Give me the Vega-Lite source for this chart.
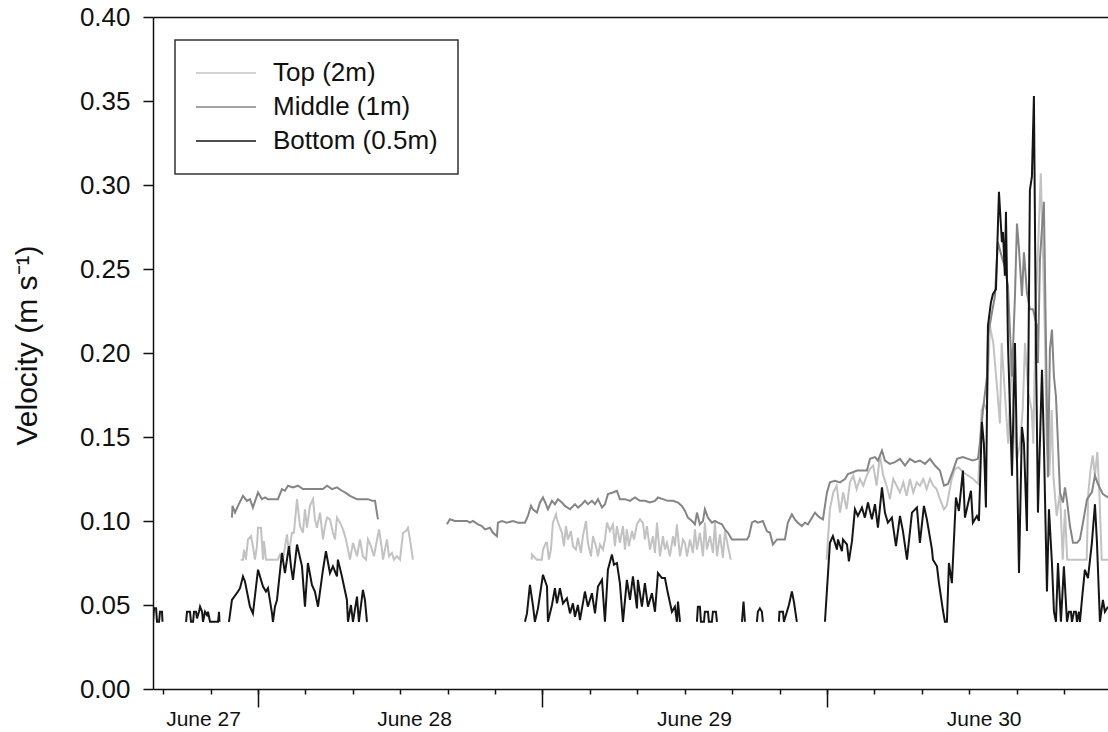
{
"$schema": "https://vega.github.io/schema/vega-lite/v6.json",
"width": 955, "height": 672,
"autosize": {"type": "none"},
"padding": {"left": 153, "top": 17, "right": 0, "bottom": 43},
"background": "white",
"config": {"view": {"stroke": null}, "font": "Liberation Sans", "legend": {"strokeWidth": 1.5}},
"data": {"values": [
{"s":"T","g":1,"h":22.54,"v":0.077},{"s":"T","g":1,"h":22.73,"v":0.077},{"s":"T","g":1,"h":22.82,"v":0.083},{"s":"T","g":1,"h":22.98,"v":0.077},{"s":"T","g":1,"h":23.15,"v":0.089},{"s":"T","g":1,"h":23.41,"v":0.091},{"s":"T","g":1,"h":23.57,"v":0.085},{"s":"T","g":1,"h":23.74,"v":0.077},{"s":"T","g":1,"h":23.91,"v":0.085},{"s":"T","g":1,"h":24.00,"v":0.096},{"s":"T","g":1,"h":24.25,"v":0.096},{"s":"T","g":1,"h":24.42,"v":0.077},{"s":"T","g":1,"h":24.50,"v":0.088},{"s":"T","g":1,"h":24.67,"v":0.077},{"s":"T","g":1,"h":25.01,"v":0.077},{"s":"T","g":1,"h":25.68,"v":0.077},{"s":"T","g":1,"h":25.85,"v":0.080},{"s":"T","g":1,"h":26.11,"v":0.077},{"s":"T","g":1,"h":26.44,"v":0.092},{"s":"T","g":1,"h":26.61,"v":0.081},{"s":"T","g":1,"h":26.86,"v":0.093},{"s":"T","g":1,"h":27.03,"v":0.093},{"s":"T","g":1,"h":27.29,"v":0.113},{"s":"T","g":1,"h":27.54,"v":0.097},{"s":"T","g":1,"h":27.79,"v":0.093},{"s":"T","g":1,"h":27.96,"v":0.107},{"s":"T","g":1,"h":28.13,"v":0.096},{"s":"T","g":1,"h":28.38,"v":0.109},{"s":"T","g":1,"h":28.64,"v":0.113},{"s":"T","g":1,"h":28.80,"v":0.101},{"s":"T","g":1,"h":28.97,"v":0.096},{"s":"T","g":1,"h":29.23,"v":0.105},{"s":"T","g":1,"h":29.48,"v":0.089},{"s":"T","g":1,"h":29.65,"v":0.097},{"s":"T","g":1,"h":29.82,"v":0.102},{"s":"T","g":1,"h":30.07,"v":0.101},{"s":"T","g":1,"h":30.32,"v":0.093},{"s":"T","g":1,"h":30.49,"v":0.089},{"s":"T","g":1,"h":30.66,"v":0.102},{"s":"T","g":1,"h":30.92,"v":0.099},{"s":"T","g":1,"h":31.17,"v":0.095},{"s":"T","g":1,"h":31.42,"v":0.089},{"s":"T","g":1,"h":31.59,"v":0.083},{"s":"T","g":1,"h":31.76,"v":0.077},{"s":"T","g":1,"h":32.01,"v":0.087},{"s":"T","g":1,"h":32.35,"v":0.079},{"s":"T","g":1,"h":32.60,"v":0.089},{"s":"T","g":1,"h":32.85,"v":0.079},{"s":"T","g":1,"h":33.11,"v":0.077},{"s":"T","g":1,"h":33.28,"v":0.089},{"s":"T","g":1,"h":33.53,"v":0.085},{"s":"T","g":1,"h":33.78,"v":0.079},{"s":"T","g":1,"h":34.04,"v":0.089},{"s":"T","g":1,"h":34.21,"v":0.095},{"s":"T","g":1,"h":34.46,"v":0.083},{"s":"T","g":1,"h":34.54,"v":0.077},{"s":"T","g":1,"h":34.88,"v":0.089},{"s":"T","g":1,"h":35.05,"v":0.079},{"s":"T","g":1,"h":35.30,"v":0.081},{"s":"T","g":1,"h":35.47,"v":0.077},{"s":"T","g":1,"h":35.72,"v":0.079},{"s":"T","g":1,"h":35.98,"v":0.077},{"s":"T","g":1,"h":36.23,"v":0.093},{"s":"T","g":1,"h":36.48,"v":0.094},{"s":"T","g":1,"h":36.65,"v":0.096},{"s":"T","g":1,"h":36.82,"v":0.089},{"s":"T","g":1,"h":37.07,"v":0.077},
{"s":"T","g":2,"h":47.09,"v":0.077},{"s":"T","g":2,"h":47.11,"v":0.080},{"s":"T","g":2,"h":47.53,"v":0.077},{"s":"T","g":2,"h":47.95,"v":0.077},{"s":"T","g":2,"h":48.04,"v":0.083},{"s":"T","g":2,"h":48.29,"v":0.087},{"s":"T","g":2,"h":48.38,"v":0.087},{"s":"T","g":2,"h":48.54,"v":0.077},{"s":"T","g":2,"h":48.71,"v":0.083},{"s":"T","g":2,"h":48.88,"v":0.099},{"s":"T","g":2,"h":49.14,"v":0.104},{"s":"T","g":2,"h":49.22,"v":0.101},{"s":"T","g":2,"h":49.47,"v":0.096},{"s":"T","g":2,"h":49.64,"v":0.093},{"s":"T","g":2,"h":49.81,"v":0.085},{"s":"T","g":2,"h":49.98,"v":0.097},{"s":"T","g":2,"h":50.15,"v":0.089},{"s":"T","g":2,"h":50.40,"v":0.094},{"s":"T","g":2,"h":50.57,"v":0.085},{"s":"T","g":2,"h":50.82,"v":0.083},{"s":"T","g":2,"h":50.99,"v":0.090},{"s":"T","g":2,"h":51.24,"v":0.081},{"s":"T","g":2,"h":51.41,"v":0.091},{"s":"T","g":2,"h":51.67,"v":0.100},{"s":"T","g":2,"h":51.83,"v":0.087},{"s":"T","g":2,"h":52.09,"v":0.079},{"s":"T","g":2,"h":52.26,"v":0.091},{"s":"T","g":2,"h":52.51,"v":0.085},{"s":"T","g":2,"h":52.68,"v":0.079},{"s":"T","g":2,"h":52.85,"v":0.086},{"s":"T","g":2,"h":53.10,"v":0.083},{"s":"T","g":2,"h":53.27,"v":0.089},{"s":"T","g":2,"h":53.44,"v":0.099},{"s":"T","g":2,"h":53.69,"v":0.094},{"s":"T","g":2,"h":53.94,"v":0.098},{"s":"T","g":2,"h":54.11,"v":0.085},{"s":"T","g":2,"h":54.28,"v":0.097},{"s":"T","g":2,"h":54.53,"v":0.087},{"s":"T","g":2,"h":54.79,"v":0.097},{"s":"T","g":2,"h":54.96,"v":0.083},{"s":"T","g":2,"h":55.12,"v":0.095},{"s":"T","g":2,"h":55.29,"v":0.085},{"s":"T","g":2,"h":55.55,"v":0.094},{"s":"T","g":2,"h":55.72,"v":0.089},{"s":"T","g":2,"h":55.97,"v":0.098},{"s":"T","g":2,"h":56.22,"v":0.101},{"s":"T","g":2,"h":56.47,"v":0.099},{"s":"T","g":2,"h":56.64,"v":0.089},{"s":"T","g":2,"h":56.81,"v":0.097},{"s":"T","g":2,"h":57.07,"v":0.083},{"s":"T","g":2,"h":57.32,"v":0.091},{"s":"T","g":2,"h":57.49,"v":0.081},{"s":"T","g":2,"h":57.66,"v":0.099},{"s":"T","g":2,"h":57.91,"v":0.079},{"s":"T","g":2,"h":58.16,"v":0.091},{"s":"T","g":2,"h":58.33,"v":0.083},{"s":"T","g":2,"h":58.50,"v":0.087},{"s":"T","g":2,"h":58.75,"v":0.079},{"s":"T","g":2,"h":59.01,"v":0.091},{"s":"T","g":2,"h":59.17,"v":0.085},{"s":"T","g":2,"h":59.34,"v":0.098},{"s":"T","g":2,"h":59.60,"v":0.079},{"s":"T","g":2,"h":59.85,"v":0.089},{"s":"T","g":2,"h":60.02,"v":0.087},{"s":"T","g":2,"h":60.19,"v":0.079},{"s":"T","g":2,"h":60.44,"v":0.089},{"s":"T","g":2,"h":60.69,"v":0.081},{"s":"T","g":2,"h":60.86,"v":0.095},{"s":"T","g":2,"h":61.03,"v":0.083},{"s":"T","g":2,"h":61.28,"v":0.093},{"s":"T","g":2,"h":61.54,"v":0.079},{"s":"T","g":2,"h":61.70,"v":0.099},{"s":"T","g":2,"h":61.87,"v":0.083},{"s":"T","g":2,"h":62.13,"v":0.091},{"s":"T","g":2,"h":62.38,"v":0.081},{"s":"T","g":2,"h":62.55,"v":0.099},{"s":"T","g":2,"h":62.72,"v":0.079},{"s":"T","g":2,"h":62.97,"v":0.092},{"s":"T","g":2,"h":63.22,"v":0.078},{"s":"T","g":2,"h":63.39,"v":0.094},{"s":"T","g":2,"h":63.65,"v":0.085},{"s":"T","g":2,"h":63.88,"v":0.077},
{"s":"T","g":3,"h":71.97,"v":0.077},{"s":"T","g":3,"h":72.25,"v":0.107},{"s":"T","g":3,"h":72.53,"v":0.117},{"s":"T","g":3,"h":72.82,"v":0.121},{"s":"T","g":3,"h":73.10,"v":0.105},{"s":"T","g":3,"h":73.37,"v":0.117},{"s":"T","g":3,"h":73.66,"v":0.107},{"s":"T","g":3,"h":73.94,"v":0.123},{"s":"T","g":3,"h":74.22,"v":0.127},{"s":"T","g":3,"h":74.50,"v":0.119},{"s":"T","g":3,"h":74.78,"v":0.125},{"s":"T","g":3,"h":75.06,"v":0.121},{"s":"T","g":3,"h":75.35,"v":0.127},{"s":"T","g":3,"h":75.63,"v":0.131},{"s":"T","g":3,"h":75.90,"v":0.133},{"s":"T","g":3,"h":76.19,"v":0.121},{"s":"T","g":3,"h":76.47,"v":0.139},{"s":"T","g":3,"h":76.75,"v":0.127},{"s":"T","g":3,"h":77.03,"v":0.121},{"s":"T","g":3,"h":77.31,"v":0.113},{"s":"T","g":3,"h":77.59,"v":0.125},{"s":"T","g":3,"h":77.88,"v":0.121},{"s":"T","g":3,"h":78.16,"v":0.117},{"s":"T","g":3,"h":78.44,"v":0.123},{"s":"T","g":3,"h":78.72,"v":0.115},{"s":"T","g":3,"h":79.00,"v":0.125},{"s":"T","g":3,"h":79.28,"v":0.117},{"s":"T","g":3,"h":79.57,"v":0.123},{"s":"T","g":3,"h":79.84,"v":0.121},{"s":"T","g":3,"h":80.12,"v":0.125},{"s":"T","g":3,"h":80.41,"v":0.119},{"s":"T","g":3,"h":80.69,"v":0.125},{"s":"T","g":3,"h":80.97,"v":0.121},{"s":"T","g":3,"h":81.25,"v":0.119},{"s":"T","g":3,"h":81.53,"v":0.113},{"s":"T","g":3,"h":81.87,"v":0.107},{"s":"T","g":3,"h":82.10,"v":0.109},{"s":"T","g":3,"h":82.52,"v":0.125},{"s":"T","g":3,"h":82.80,"v":0.131},{"s":"T","g":3,"h":83.08,"v":0.132},{"s":"T","g":3,"h":83.50,"v":0.129},{"s":"T","g":3,"h":83.92,"v":0.127},{"s":"T","g":3,"h":84.34,"v":0.125},{"s":"T","g":3,"h":84.76,"v":0.122},{"s":"T","g":3,"h":85.05,"v":0.166},{"s":"T","g":3,"h":85.24,"v":0.170},{"s":"T","g":3,"h":85.47,"v":0.166},{"s":"T","g":3,"h":85.75,"v":0.216},{"s":"T","g":3,"h":86.03,"v":0.206},{"s":"T","g":3,"h":86.32,"v":0.182},{"s":"T","g":3,"h":86.59,"v":0.158},{"s":"T","g":3,"h":86.74,"v":0.206},{"s":"T","g":3,"h":87.01,"v":0.176},{"s":"T","g":3,"h":87.29,"v":0.146},{"s":"T","g":3,"h":87.58,"v":0.202},{"s":"T","g":3,"h":87.72,"v":0.166},{"s":"T","g":3,"h":88.00,"v":0.136},{"s":"T","g":3,"h":88.29,"v":0.146},{"s":"T","g":3,"h":88.51,"v":0.166},{"s":"T","g":3,"h":88.71,"v":0.206},{"s":"T","g":3,"h":88.99,"v":0.176},{"s":"T","g":3,"h":89.27,"v":0.166},{"s":"T","g":3,"h":89.41,"v":0.146},{"s":"T","g":3,"h":89.64,"v":0.234},{"s":"T","g":3,"h":89.83,"v":0.266},{"s":"T","g":3,"h":90.04,"v":0.307},{"s":"T","g":3,"h":90.20,"v":0.266},{"s":"T","g":3,"h":90.40,"v":0.206},{"s":"T","g":3,"h":90.54,"v":0.146},{"s":"T","g":3,"h":90.76,"v":0.127},{"s":"T","g":3,"h":90.96,"v":0.166},{"s":"T","g":3,"h":91.10,"v":0.127},{"s":"T","g":3,"h":91.38,"v":0.103},{"s":"T","g":3,"h":91.66,"v":0.117},{"s":"T","g":3,"h":91.89,"v":0.077},{"s":"T","g":3,"h":92.08,"v":0.107},{"s":"T","g":3,"h":92.27,"v":0.077},{"s":"T","g":3,"h":92.50,"v":0.077},{"s":"T","g":3,"h":93.91,"v":0.077},{"s":"T","g":3,"h":94.05,"v":0.117},{"s":"T","g":3,"h":94.25,"v":0.131},{"s":"T","g":3,"h":94.42,"v":0.139},{"s":"T","g":3,"h":94.61,"v":0.127},{"s":"T","g":3,"h":94.81,"v":0.141},{"s":"T","g":3,"h":94.98,"v":0.117},{"s":"T","g":3,"h":95.18,"v":0.077},{"s":"T","g":3,"h":95.71,"v":0.077},
{"s":"M","g":4,"h":21.80,"v":0.102},{"s":"M","g":4,"h":21.85,"v":0.109},{"s":"M","g":4,"h":22.06,"v":0.105},{"s":"M","g":4,"h":22.31,"v":0.109},{"s":"M","g":4,"h":22.73,"v":0.115},{"s":"M","g":4,"h":23.07,"v":0.112},{"s":"M","g":4,"h":23.32,"v":0.113},{"s":"M","g":4,"h":23.57,"v":0.108},{"s":"M","g":4,"h":24.00,"v":0.117},{"s":"M","g":4,"h":24.33,"v":0.113},{"s":"M","g":4,"h":24.59,"v":0.114},{"s":"M","g":4,"h":24.84,"v":0.113},{"s":"M","g":4,"h":25.68,"v":0.113},{"s":"M","g":4,"h":26.02,"v":0.119},{"s":"M","g":4,"h":26.27,"v":0.118},{"s":"M","g":4,"h":26.53,"v":0.121},{"s":"M","g":4,"h":26.95,"v":0.120},{"s":"M","g":4,"h":27.37,"v":0.121},{"s":"M","g":4,"h":27.79,"v":0.119},{"s":"M","g":4,"h":28.38,"v":0.119},{"s":"M","g":4,"h":28.97,"v":0.119},{"s":"M","g":4,"h":29.48,"v":0.119},{"s":"M","g":4,"h":29.82,"v":0.121},{"s":"M","g":4,"h":30.24,"v":0.119},{"s":"M","g":4,"h":30.66,"v":0.120},{"s":"M","g":4,"h":31.08,"v":0.118},{"s":"M","g":4,"h":31.34,"v":0.117},{"s":"M","g":4,"h":31.76,"v":0.115},{"s":"M","g":4,"h":32.35,"v":0.113},{"s":"M","g":4,"h":32.85,"v":0.113},{"s":"M","g":4,"h":33.28,"v":0.113},{"s":"M","g":4,"h":33.61,"v":0.112},{"s":"M","g":4,"h":33.87,"v":0.112},{"s":"M","g":4,"h":34.12,"v":0.101},
{"s":"M","g":5,"h":39.94,"v":0.098},{"s":"M","g":5,"h":40.19,"v":0.101},{"s":"M","g":5,"h":40.61,"v":0.100},{"s":"M","g":5,"h":41.04,"v":0.100},{"s":"M","g":5,"h":41.63,"v":0.100},{"s":"M","g":5,"h":41.88,"v":0.099},{"s":"M","g":5,"h":42.13,"v":0.100},{"s":"M","g":5,"h":42.56,"v":0.098},{"s":"M","g":5,"h":42.89,"v":0.097},{"s":"M","g":5,"h":43.15,"v":0.095},{"s":"M","g":5,"h":43.57,"v":0.096},{"s":"M","g":5,"h":43.82,"v":0.093},{"s":"M","g":5,"h":44.16,"v":0.091},{"s":"M","g":5,"h":44.24,"v":0.099},{"s":"M","g":5,"h":44.58,"v":0.100},{"s":"M","g":5,"h":45.00,"v":0.099},{"s":"M","g":5,"h":45.51,"v":0.100},{"s":"M","g":5,"h":45.93,"v":0.099},{"s":"M","g":5,"h":46.52,"v":0.099},{"s":"M","g":5,"h":46.77,"v":0.103},{"s":"M","g":5,"h":47.03,"v":0.109},{"s":"M","g":5,"h":47.19,"v":0.107},{"s":"M","g":5,"h":47.53,"v":0.105},{"s":"M","g":5,"h":47.79,"v":0.111},{"s":"M","g":5,"h":48.04,"v":0.114},{"s":"M","g":5,"h":48.29,"v":0.110},{"s":"M","g":5,"h":48.46,"v":0.107},{"s":"M","g":5,"h":48.80,"v":0.112},{"s":"M","g":5,"h":49.05,"v":0.110},{"s":"M","g":5,"h":49.30,"v":0.113},{"s":"M","g":5,"h":49.64,"v":0.111},{"s":"M","g":5,"h":49.89,"v":0.109},{"s":"M","g":5,"h":50.32,"v":0.107},{"s":"M","g":5,"h":50.74,"v":0.110},{"s":"M","g":5,"h":50.99,"v":0.108},{"s":"M","g":5,"h":51.33,"v":0.110},{"s":"M","g":5,"h":51.58,"v":0.112},{"s":"M","g":5,"h":51.83,"v":0.110},{"s":"M","g":5,"h":52.17,"v":0.112},{"s":"M","g":5,"h":52.43,"v":0.110},{"s":"M","g":5,"h":52.68,"v":0.113},{"s":"M","g":5,"h":53.02,"v":0.108},{"s":"M","g":5,"h":53.27,"v":0.110},{"s":"M","g":5,"h":53.52,"v":0.116},{"s":"M","g":5,"h":53.94,"v":0.117},{"s":"M","g":5,"h":54.28,"v":0.118},{"s":"M","g":5,"h":54.53,"v":0.113},{"s":"M","g":5,"h":54.96,"v":0.113},{"s":"M","g":5,"h":55.38,"v":0.112},{"s":"M","g":5,"h":55.80,"v":0.114},{"s":"M","g":5,"h":56.22,"v":0.112},{"s":"M","g":5,"h":56.64,"v":0.112},{"s":"M","g":5,"h":57.07,"v":0.111},{"s":"M","g":5,"h":57.49,"v":0.112},{"s":"M","g":5,"h":57.74,"v":0.114},{"s":"M","g":5,"h":58.16,"v":0.113},{"s":"M","g":5,"h":58.58,"v":0.112},{"s":"M","g":5,"h":59.01,"v":0.112},{"s":"M","g":5,"h":59.43,"v":0.111},{"s":"M","g":5,"h":59.76,"v":0.109},{"s":"M","g":5,"h":60.02,"v":0.106},{"s":"M","g":5,"h":60.27,"v":0.102},{"s":"M","g":5,"h":60.61,"v":0.100},{"s":"M","g":5,"h":60.86,"v":0.098},{"s":"M","g":5,"h":61.03,"v":0.105},{"s":"M","g":5,"h":61.28,"v":0.098},{"s":"M","g":5,"h":61.54,"v":0.100},{"s":"M","g":5,"h":61.70,"v":0.107},{"s":"M","g":5,"h":61.96,"v":0.102},{"s":"M","g":5,"h":62.29,"v":0.099},{"s":"M","g":5,"h":62.55,"v":0.100},{"s":"M","g":5,"h":62.80,"v":0.099},{"s":"M","g":5,"h":63.14,"v":0.098},{"s":"M","g":5,"h":63.39,"v":0.095},{"s":"M","g":5,"h":63.65,"v":0.093},{"s":"M","g":5,"h":63.98,"v":0.089},{"s":"M","g":5,"h":64.41,"v":0.089},{"s":"M","g":5,"h":64.83,"v":0.089},{"s":"M","g":5,"h":65.25,"v":0.089},{"s":"M","g":5,"h":65.42,"v":0.091},{"s":"M","g":5,"h":65.67,"v":0.099},{"s":"M","g":5,"h":65.92,"v":0.100},{"s":"M","g":5,"h":66.17,"v":0.099},{"s":"M","g":5,"h":66.59,"v":0.100},{"s":"M","g":5,"h":66.93,"v":0.094},{"s":"M","g":5,"h":67.19,"v":0.093},{"s":"M","g":5,"h":67.44,"v":0.086},{"s":"M","g":5,"h":67.78,"v":0.089},{"s":"M","g":5,"h":68.20,"v":0.089},{"s":"M","g":5,"h":68.45,"v":0.089},{"s":"M","g":5,"h":68.70,"v":0.099},{"s":"M","g":5,"h":69.04,"v":0.104},{"s":"M","g":5,"h":69.29,"v":0.101},{"s":"M","g":5,"h":69.55,"v":0.099},{"s":"M","g":5,"h":69.88,"v":0.097},{"s":"M","g":5,"h":70.14,"v":0.099},{"s":"M","g":5,"h":70.39,"v":0.098},{"s":"M","g":5,"h":70.73,"v":0.102},{"s":"M","g":5,"h":70.99,"v":0.105},{"s":"M","g":5,"h":71.24,"v":0.103},{"s":"M","g":5,"h":71.41,"v":0.102},{"s":"M","g":5,"h":71.66,"v":0.101},{"s":"M","g":5,"h":72.00,"v":0.117},{"s":"M","g":5,"h":72.25,"v":0.123},{"s":"M","g":5,"h":72.67,"v":0.124},{"s":"M","g":5,"h":73.10,"v":0.123},{"s":"M","g":5,"h":73.52,"v":0.125},{"s":"M","g":5,"h":73.77,"v":0.128},{"s":"M","g":5,"h":74.19,"v":0.129},{"s":"M","g":5,"h":74.53,"v":0.130},{"s":"M","g":5,"h":75.37,"v":0.130},{"s":"M","g":5,"h":75.63,"v":0.137},{"s":"M","g":5,"h":76.05,"v":0.138},{"s":"M","g":5,"h":76.30,"v":0.136},{"s":"M","g":5,"h":76.64,"v":0.142},{"s":"M","g":5,"h":76.89,"v":0.136},{"s":"M","g":5,"h":77.31,"v":0.134},{"s":"M","g":5,"h":77.74,"v":0.135},{"s":"M","g":5,"h":78.16,"v":0.137},{"s":"M","g":5,"h":78.58,"v":0.133},{"s":"M","g":5,"h":79.00,"v":0.137},{"s":"M","g":5,"h":79.42,"v":0.135},{"s":"M","g":5,"h":79.84,"v":0.136},{"s":"M","g":5,"h":80.27,"v":0.134},{"s":"M","g":5,"h":80.69,"v":0.137},{"s":"M","g":5,"h":81.11,"v":0.133},{"s":"M","g":5,"h":81.53,"v":0.130},{"s":"M","g":5,"h":81.87,"v":0.121},{"s":"M","g":5,"h":82.21,"v":0.122},{"s":"M","g":5,"h":82.63,"v":0.130},{"s":"M","g":5,"h":82.97,"v":0.137},{"s":"M","g":5,"h":83.47,"v":0.138},{"s":"M","g":5,"h":83.89,"v":0.137},{"s":"M","g":5,"h":84.31,"v":0.136},{"s":"M","g":5,"h":84.74,"v":0.137},{"s":"M","g":5,"h":84.91,"v":0.147},{"s":"M","g":5,"h":85.16,"v":0.166},{"s":"M","g":5,"h":85.50,"v":0.186},{"s":"M","g":5,"h":85.58,"v":0.210},{"s":"M","g":5,"h":85.92,"v":0.224},{"s":"M","g":5,"h":86.17,"v":0.234},{"s":"M","g":5,"h":86.42,"v":0.266},{"s":"M","g":5,"h":86.76,"v":0.257},{"s":"M","g":5,"h":87.01,"v":0.251},{"s":"M","g":5,"h":87.27,"v":0.240},{"s":"M","g":5,"h":87.61,"v":0.186},{"s":"M","g":5,"h":87.86,"v":0.234},{"s":"M","g":5,"h":88.03,"v":0.277},{"s":"M","g":5,"h":88.20,"v":0.262},{"s":"M","g":5,"h":88.45,"v":0.234},{"s":"M","g":5,"h":88.62,"v":0.260},{"s":"M","g":5,"h":88.87,"v":0.236},{"s":"M","g":5,"h":89.12,"v":0.226},{"s":"M","g":5,"h":89.38,"v":0.226},{"s":"M","g":5,"h":89.71,"v":0.216},{"s":"M","g":5,"h":89.80,"v":0.194},{"s":"M","g":5,"h":89.97,"v":0.256},{"s":"M","g":5,"h":90.14,"v":0.274},{"s":"M","g":5,"h":90.30,"v":0.290},{"s":"M","g":5,"h":90.56,"v":0.167},{"s":"M","g":5,"h":90.64,"v":0.126},{"s":"M","g":5,"h":90.81,"v":0.202},{"s":"M","g":5,"h":90.98,"v":0.214},{"s":"M","g":5,"h":91.15,"v":0.186},{"s":"M","g":5,"h":91.32,"v":0.174},{"s":"M","g":5,"h":91.49,"v":0.146},{"s":"M","g":5,"h":91.66,"v":0.117},{"s":"M","g":5,"h":91.91,"v":0.111},{"s":"M","g":5,"h":92.08,"v":0.120},{"s":"M","g":5,"h":92.25,"v":0.112},{"s":"M","g":5,"h":92.50,"v":0.097},{"s":"M","g":5,"h":92.76,"v":0.087},{"s":"M","g":5,"h":93.09,"v":0.087},{"s":"M","g":5,"h":93.34,"v":0.089},{"s":"M","g":5,"h":93.60,"v":0.099},{"s":"M","g":5,"h":93.94,"v":0.113},{"s":"M","g":5,"h":94.35,"v":0.117},{"s":"M","g":5,"h":94.61,"v":0.127},{"s":"M","g":5,"h":94.86,"v":0.122},{"s":"M","g":5,"h":95.28,"v":0.116},{"s":"M","g":5,"h":95.71,"v":0.114},
{"s":"B","g":6,"h":15.14,"v":0.040},{"s":"B","g":6,"h":15.23,"v":0.048},{"s":"B","g":6,"h":15.40,"v":0.048},{"s":"B","g":6,"h":15.48,"v":0.040},{"s":"B","g":6,"h":15.65,"v":0.040},{"s":"B","g":6,"h":15.73,"v":0.046},{"s":"B","g":6,"h":15.90,"v":0.046},{"s":"B","g":6,"h":15.94,"v":0.040},
{"s":"B","g":7,"h":17.93,"v":0.040},{"s":"B","g":7,"h":18.01,"v":0.046},{"s":"B","g":7,"h":18.26,"v":0.046},{"s":"B","g":7,"h":18.35,"v":0.040},{"s":"B","g":7,"h":18.52,"v":0.040},{"s":"B","g":7,"h":18.60,"v":0.046},{"s":"B","g":7,"h":18.77,"v":0.046},{"s":"B","g":7,"h":18.85,"v":0.042},{"s":"B","g":7,"h":19.02,"v":0.046},{"s":"B","g":7,"h":19.11,"v":0.049},{"s":"B","g":7,"h":19.28,"v":0.046},{"s":"B","g":7,"h":19.36,"v":0.040},{"s":"B","g":7,"h":19.53,"v":0.046},{"s":"B","g":7,"h":19.70,"v":0.044},{"s":"B","g":7,"h":19.78,"v":0.046},{"s":"B","g":7,"h":19.95,"v":0.040},{"s":"B","g":7,"h":20.29,"v":0.040},{"s":"B","g":7,"h":20.63,"v":0.040},{"s":"B","g":7,"h":20.71,"v":0.046},{"s":"B","g":7,"h":20.75,"v":0.040},
{"s":"B","g":8,"h":21.55,"v":0.040},{"s":"B","g":8,"h":21.80,"v":0.053},{"s":"B","g":8,"h":22.31,"v":0.058},{"s":"B","g":8,"h":22.48,"v":0.060},{"s":"B","g":8,"h":22.73,"v":0.067},{"s":"B","g":8,"h":22.90,"v":0.064},{"s":"B","g":8,"h":23.32,"v":0.049},{"s":"B","g":8,"h":23.57,"v":0.045},{"s":"B","g":8,"h":24.00,"v":0.071},{"s":"B","g":8,"h":24.42,"v":0.061},{"s":"B","g":8,"h":24.67,"v":0.058},{"s":"B","g":8,"h":24.84,"v":0.060},{"s":"B","g":8,"h":25.18,"v":0.045},{"s":"B","g":8,"h":25.26,"v":0.040},{"s":"B","g":8,"h":25.43,"v":0.049},{"s":"B","g":8,"h":25.60,"v":0.053},{"s":"B","g":8,"h":26.02,"v":0.081},{"s":"B","g":8,"h":26.27,"v":0.069},{"s":"B","g":8,"h":26.61,"v":0.085},{"s":"B","g":8,"h":26.78,"v":0.073},{"s":"B","g":8,"h":26.95,"v":0.065},{"s":"B","g":8,"h":27.29,"v":0.086},{"s":"B","g":8,"h":27.71,"v":0.073},{"s":"B","g":8,"h":27.96,"v":0.049},{"s":"B","g":8,"h":28.21,"v":0.075},{"s":"B","g":8,"h":28.55,"v":0.062},{"s":"B","g":8,"h":28.80,"v":0.058},{"s":"B","g":8,"h":29.06,"v":0.049},{"s":"B","g":8,"h":29.48,"v":0.071},{"s":"B","g":8,"h":29.73,"v":0.082},{"s":"B","g":8,"h":30.07,"v":0.069},{"s":"B","g":8,"h":30.32,"v":0.073},{"s":"B","g":8,"h":30.66,"v":0.067},{"s":"B","g":8,"h":30.74,"v":0.077},{"s":"B","g":8,"h":31.08,"v":0.067},{"s":"B","g":8,"h":31.50,"v":0.053},{"s":"B","g":8,"h":31.59,"v":0.040},{"s":"B","g":8,"h":31.84,"v":0.050},{"s":"B","g":8,"h":32.01,"v":0.040},{"s":"B","g":8,"h":32.35,"v":0.055},{"s":"B","g":8,"h":32.51,"v":0.040},{"s":"B","g":8,"h":32.85,"v":0.059},{"s":"B","g":8,"h":33.02,"v":0.053},{"s":"B","g":8,"h":33.19,"v":0.040},
{"s":"B","g":9,"h":46.52,"v":0.040},{"s":"B","g":9,"h":46.69,"v":0.045},{"s":"B","g":9,"h":46.94,"v":0.062},{"s":"B","g":9,"h":47.19,"v":0.050},{"s":"B","g":9,"h":47.36,"v":0.040},{"s":"B","g":9,"h":47.62,"v":0.048},{"s":"B","g":9,"h":48.04,"v":0.068},{"s":"B","g":9,"h":48.38,"v":0.061},{"s":"B","g":9,"h":48.46,"v":0.040},{"s":"B","g":9,"h":48.80,"v":0.050},{"s":"B","g":9,"h":49.05,"v":0.060},{"s":"B","g":9,"h":49.22,"v":0.051},{"s":"B","g":9,"h":49.47,"v":0.060},{"s":"B","g":9,"h":49.73,"v":0.051},{"s":"B","g":9,"h":50.06,"v":0.054},{"s":"B","g":9,"h":50.32,"v":0.045},{"s":"B","g":9,"h":50.57,"v":0.051},{"s":"B","g":9,"h":50.74,"v":0.043},{"s":"B","g":9,"h":50.99,"v":0.050},{"s":"B","g":9,"h":51.16,"v":0.041},{"s":"B","g":9,"h":51.58,"v":0.058},{"s":"B","g":9,"h":51.83,"v":0.049},{"s":"B","g":9,"h":52.17,"v":0.057},{"s":"B","g":9,"h":52.43,"v":0.045},{"s":"B","g":9,"h":52.68,"v":0.061},{"s":"B","g":9,"h":53.02,"v":0.065},{"s":"B","g":9,"h":53.27,"v":0.040},{"s":"B","g":9,"h":53.52,"v":0.071},{"s":"B","g":9,"h":53.86,"v":0.080},{"s":"B","g":9,"h":54.03,"v":0.074},{"s":"B","g":9,"h":54.28,"v":0.075},{"s":"B","g":9,"h":54.53,"v":0.063},{"s":"B","g":9,"h":54.79,"v":0.040},{"s":"B","g":9,"h":55.12,"v":0.065},{"s":"B","g":9,"h":55.38,"v":0.053},{"s":"B","g":9,"h":55.63,"v":0.067},{"s":"B","g":9,"h":55.97,"v":0.048},{"s":"B","g":9,"h":56.05,"v":0.065},{"s":"B","g":9,"h":56.39,"v":0.049},{"s":"B","g":9,"h":56.64,"v":0.063},{"s":"B","g":9,"h":56.90,"v":0.049},{"s":"B","g":9,"h":57.23,"v":0.057},{"s":"B","g":9,"h":57.49,"v":0.046},{"s":"B","g":9,"h":57.74,"v":0.069},{"s":"B","g":9,"h":58.08,"v":0.066},{"s":"B","g":9,"h":58.33,"v":0.066},{"s":"B","g":9,"h":58.58,"v":0.057},{"s":"B","g":9,"h":58.92,"v":0.046},{"s":"B","g":9,"h":59.17,"v":0.049},{"s":"B","g":9,"h":59.34,"v":0.040},{"s":"B","g":9,"h":59.43,"v":0.052},{"s":"B","g":9,"h":59.60,"v":0.040},
{"s":"B","g":10,"h":61.03,"v":0.040},{"s":"B","g":10,"h":61.11,"v":0.049},{"s":"B","g":10,"h":61.28,"v":0.049},{"s":"B","g":10,"h":61.37,"v":0.040},{"s":"B","g":10,"h":61.62,"v":0.040},{"s":"B","g":10,"h":61.70,"v":0.046},{"s":"B","g":10,"h":61.96,"v":0.046},{"s":"B","g":10,"h":62.04,"v":0.040},{"s":"B","g":10,"h":62.29,"v":0.040},{"s":"B","g":10,"h":62.38,"v":0.046},{"s":"B","g":10,"h":62.63,"v":0.046},{"s":"B","g":10,"h":62.72,"v":0.040},
{"s":"B","g":11,"h":64.83,"v":0.040},{"s":"B","g":11,"h":64.96,"v":0.052},{"s":"B","g":11,"h":65.08,"v":0.040},
{"s":"B","g":12,"h":66.09,"v":0.040},{"s":"B","g":12,"h":66.17,"v":0.046},{"s":"B","g":12,"h":66.34,"v":0.048},{"s":"B","g":12,"h":66.51,"v":0.046},{"s":"B","g":12,"h":66.59,"v":0.040},
{"s":"B","g":13,"h":67.95,"v":0.040},{"s":"B","g":13,"h":67.99,"v":0.046},{"s":"B","g":13,"h":68.29,"v":0.046},{"s":"B","g":13,"h":68.37,"v":0.040},{"s":"B","g":13,"h":68.62,"v":0.046},{"s":"B","g":13,"h":68.79,"v":0.050},{"s":"B","g":13,"h":69.04,"v":0.058},{"s":"B","g":13,"h":69.21,"v":0.052},{"s":"B","g":13,"h":69.46,"v":0.040},
{"s":"B","g":14,"h":71.83,"v":0.040},{"s":"B","g":14,"h":72.25,"v":0.087},{"s":"B","g":14,"h":72.50,"v":0.091},{"s":"B","g":14,"h":72.84,"v":0.083},{"s":"B","g":14,"h":72.93,"v":0.089},{"s":"B","g":14,"h":73.26,"v":0.082},{"s":"B","g":14,"h":73.35,"v":0.089},{"s":"B","g":14,"h":73.69,"v":0.086},{"s":"B","g":14,"h":73.85,"v":0.076},{"s":"B","g":14,"h":74.11,"v":0.088},{"s":"B","g":14,"h":74.36,"v":0.107},{"s":"B","g":14,"h":74.61,"v":0.103},{"s":"B","g":14,"h":74.95,"v":0.108},{"s":"B","g":14,"h":75.20,"v":0.102},{"s":"B","g":14,"h":75.46,"v":0.111},{"s":"B","g":14,"h":75.79,"v":0.101},{"s":"B","g":14,"h":76.05,"v":0.110},{"s":"B","g":14,"h":76.30,"v":0.096},{"s":"B","g":14,"h":76.64,"v":0.120},{"s":"B","g":14,"h":76.89,"v":0.105},{"s":"B","g":14,"h":77.14,"v":0.099},{"s":"B","g":14,"h":77.48,"v":0.102},{"s":"B","g":14,"h":77.82,"v":0.085},{"s":"B","g":14,"h":78.16,"v":0.103},{"s":"B","g":14,"h":78.41,"v":0.094},{"s":"B","g":14,"h":78.75,"v":0.077},{"s":"B","g":14,"h":79.17,"v":0.105},{"s":"B","g":14,"h":79.59,"v":0.108},{"s":"B","g":14,"h":79.84,"v":0.087},{"s":"B","g":14,"h":80.18,"v":0.109},{"s":"B","g":14,"h":80.43,"v":0.101},{"s":"B","g":14,"h":80.86,"v":0.083},{"s":"B","g":14,"h":80.94,"v":0.077},{"s":"B","g":14,"h":81.28,"v":0.073},{"s":"B","g":14,"h":81.45,"v":0.063},{"s":"B","g":14,"h":81.78,"v":0.047},{"s":"B","g":14,"h":81.95,"v":0.040},{"s":"B","g":14,"h":82.12,"v":0.040},{"s":"B","g":14,"h":82.29,"v":0.075},{"s":"B","g":14,"h":82.54,"v":0.063},{"s":"B","g":14,"h":82.88,"v":0.114},{"s":"B","g":14,"h":83.13,"v":0.106},{"s":"B","g":14,"h":83.47,"v":0.130},{"s":"B","g":14,"h":83.64,"v":0.102},{"s":"B","g":14,"h":83.89,"v":0.110},{"s":"B","g":14,"h":84.15,"v":0.118},{"s":"B","g":14,"h":84.31,"v":0.099},{"s":"B","g":14,"h":84.65,"v":0.103},{"s":"B","g":14,"h":84.82,"v":0.100},{"s":"B","g":14,"h":85.07,"v":0.159},{"s":"B","g":14,"h":85.24,"v":0.146},{"s":"B","g":14,"h":85.41,"v":0.108},{"s":"B","g":14,"h":85.58,"v":0.216},{"s":"B","g":14,"h":85.83,"v":0.230},{"s":"B","g":14,"h":86.00,"v":0.235},{"s":"B","g":14,"h":86.26,"v":0.238},{"s":"B","g":14,"h":86.51,"v":0.296},{"s":"B","g":14,"h":86.76,"v":0.266},{"s":"B","g":14,"h":86.85,"v":0.272},{"s":"B","g":14,"h":87.01,"v":0.246},{"s":"B","g":14,"h":87.10,"v":0.284},{"s":"B","g":14,"h":87.27,"v":0.206},{"s":"B","g":14,"h":87.61,"v":0.127},{"s":"B","g":14,"h":87.86,"v":0.206},{"s":"B","g":14,"h":88.03,"v":0.137},{"s":"B","g":14,"h":88.20,"v":0.069},{"s":"B","g":14,"h":88.45,"v":0.156},{"s":"B","g":14,"h":88.62,"v":0.146},{"s":"B","g":14,"h":88.87,"v":0.094},{"s":"B","g":14,"h":89.12,"v":0.297},{"s":"B","g":14,"h":89.29,"v":0.305},{"s":"B","g":14,"h":89.46,"v":0.353},{"s":"B","g":14,"h":89.63,"v":0.206},{"s":"B","g":14,"h":89.80,"v":0.105},{"s":"B","g":14,"h":90.14,"v":0.190},{"s":"B","g":14,"h":90.30,"v":0.146},{"s":"B","g":14,"h":90.56,"v":0.058},{"s":"B","g":14,"h":90.73,"v":0.107},{"s":"B","g":14,"h":90.98,"v":0.075},{"s":"B","g":14,"h":91.15,"v":0.046},{"s":"B","g":14,"h":91.32,"v":0.040},{"s":"B","g":14,"h":91.49,"v":0.075},{"s":"B","g":14,"h":91.74,"v":0.040},{"s":"B","g":14,"h":91.99,"v":0.073},{"s":"B","g":14,"h":92.25,"v":0.040},{"s":"B","g":14,"h":92.41,"v":0.046},{"s":"B","g":14,"h":92.58,"v":0.046},{"s":"B","g":14,"h":92.67,"v":0.040},{"s":"B","g":14,"h":92.84,"v":0.046},{"s":"B","g":14,"h":93.00,"v":0.046},{"s":"B","g":14,"h":93.09,"v":0.040},{"s":"B","g":14,"h":93.26,"v":0.046},{"s":"B","g":14,"h":93.34,"v":0.040},{"s":"B","g":14,"h":93.51,"v":0.053},{"s":"B","g":14,"h":93.76,"v":0.071},{"s":"B","g":14,"h":94.02,"v":0.066},{"s":"B","g":14,"h":94.35,"v":0.087},{"s":"B","g":14,"h":94.61,"v":0.110},{"s":"B","g":14,"h":94.78,"v":0.087},{"s":"B","g":14,"h":95.03,"v":0.040},{"s":"B","g":14,"h":95.28,"v":0.053},{"s":"B","g":14,"h":95.45,"v":0.046},{"s":"B","g":14,"h":95.71,"v":0.049}
]},
"layer": [
{
"mark": {"type": "line", "strokeWidth": 2, "clip": true},
"encoding": {
"x": {"field": "h", "type": "quantitative", "scale": {"domain": [15.14, 95.71], "nice": false, "zero": false},
"axis": {"orient": "bottom", "values": [16,20,24,28,32,36,40,44,48,52,56,60,64,68,72,76,80,84,88,92], "labels": false, "title": null, "grid": false, "tickSize": 5, "tickWidth": 1.5, "tickColor": "#111111", "domainColor": "#111111", "domainWidth": 1.5}},
"y": {"field": "v", "type": "quantitative", "scale": {"domain": [0, 0.4], "nice": false, "zero": true},
"axis": {"values": [0,0.05,0.1,0.15,0.2,0.25,0.3,0.35,0.4], "format": ".2f", "grid": false, "tickSize": 10, "tickWidth": 1.5, "tickColor": "#111111", "domainColor": "#111111", "domainWidth": 1.5, "labelFontSize": 26, "labelFont": "Liberation Sans", "labelPadding": 13, "labelColor": "#111111", "title": "Velocity (m s⁻¹)", "titleFont": "Liberation Sans", "titleFontSize": 30, "titleFontWeight": "normal", "titleColor": "#111111", "titleX": -117, "titleY": 328, "titleAngle": 270, "titleBaseline": "alphabetic", "titleAlign": "center"}},
"color": {"field": "s", "type": "nominal", "scale": {"domain": ["T", "M", "B"], "range": ["#c2c2c2", "#858585", "#151515"]},
"legend": {"orient": "none", "legendX": 22, "legendY": 23, "title": null, "symbolType": "stroke", "symbolSize": 3600, "symbolStrokeWidth": 1.6, "clipHeight": 26, "labelFontSize": 26, "labelFont": "Liberation Sans", "labelColor": "#111111", "labelOffset": 16, "labelLimit": 400, "padding": 20, "rowPadding": 8, "strokeColor": "#333333", "fillColor": "white", "labelExpr": "datum.label == 'T' ? 'Top (2m)' : datum.label == 'M' ? 'Middle (1m)' : 'Bottom (0.5m)'"}},
"detail": {"field": "g", "type": "nominal"}
}
},
{
"transform": [{"filter": "datum.g == 6"}],
"mark": {"type": "point", "opacity": 0},
"encoding": {
"x": {"field": "h", "type": "quantitative", "scale": {"domain": [15.14, 95.71], "nice": false, "zero": false},
"axis": {"orient": "bottom", "values": [24, 48, 72], "labels": false, "domain": false, "title": null, "grid": false, "tickSize": 18, "tickWidth": 1.5, "tickColor": "#111111"}}
}
},
{
"transform": [{"filter": "datum.g == 6"}],
"mark": {"type": "point", "opacity": 0},
"encoding": {
"x": {"field": "h", "type": "quantitative", "scale": {"domain": [15.14, 95.71], "nice": false, "zero": false},
"axis": {"orient": "bottom", "values": [19.36, 37.16, 60.78, 85.22], "ticks": false, "tickSize": 0, "domain": false, "grid": false, "title": null, "labelExpr": "datum.value < 25 ? 'June 27' : datum.value < 48 ? 'June 28' : datum.value < 72 ? 'June 29' : 'June 30'", "labelFont": "Liberation Sans", "labelFontSize": 21, "labelColor": "#111111", "labelPadding": 36, "labelBaseline": "alphabetic", "labelAlign": "center", "labelOverlap": false, "labelFlush": false, "labelBound": false}}
}
},
{
"transform": [{"filter": "datum.g == 6"}],
"mark": {"type": "point", "opacity": 0},
"encoding": {
"x": {"field": "h", "type": "quantitative", "scale": {"domain": [15.14, 95.71], "nice": false, "zero": false},
"axis": {"orient": "top", "labels": false, "ticks": false, "grid": false, "title": null, "domainColor": "#111111", "domainWidth": 1.5}}
}
}
],
"resolve": {"axis": {"x": "independent"}}
}
